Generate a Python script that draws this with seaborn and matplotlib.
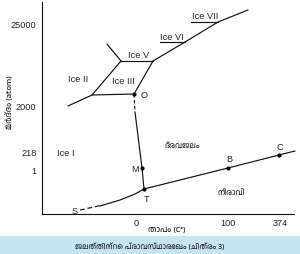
import numpy as np
import pandas as pd
import matplotlib
matplotlib.use("Agg")
import matplotlib.pyplot as plt
import seaborn as sns
from matplotlib import font_manager
from matplotlib.patches import Rectangle

# ---------------- data (schematic units) ----------------
x_tick_pos = [94, 186, 238]
x_tick_labels = ["0", "100", "374"]
y_tick_pos = [45, 62, 109, 191]
y_tick_labels = ["1", "218", "2000", "25000"]

sub_dash_x = [38, 61]
sub_dash_y = [4, 9]
sub_x = [58, 78, 93, 102]
sub_y = [8, 14, 20, 25]

melt_dash_x = [92, 93]
melt_dash_y = [120, 102]
melt_x = [93, 100, 102]
melt_y = [102, 46, 25]

vap_x = [102, 186, 237, 253]
vap_y = [25, 46, 59, 63]

ice_segments = {
    "III_bottom": ([92, 50], [120, 119]),
    "II_I": ([50, 26], [119, 108]),
    "III_left": ([50, 79], [119, 153]),
    "II_V": ([79, 65], [153, 170]),
    "V_bottom": ([79, 111], [153, 153]),
    "III_right": ([111, 92], [153, 120]),
    "V_VI_VII": ([111, 143, 176, 206], [153, 172, 192, 204]),
    "VI_under": ([118, 143], [172, 172]),
    "VII_under": ([149, 176], [192, 192]),
}

point_names = ["T", "M", "O", "B", "C"]
point_x = [102, 100, 92, 186, 237]
point_y = [25, 46, 120, 46, 59]

# ---------------- fonts ----------------
sns.set_theme(style="white")
ml_family = None
for f in font_manager.fontManager.ttflist:
    if "malayalam" in f.name.lower():
        ml_family = f.name
        break
if ml_family is None:
    try:
        from matplotlib.ft2font import FT2Font
        seen = set()
        for f in font_manager.fontManager.ttflist:
            if f.fname in seen:
                continue
            seen.add(f.fname)
            try:
                if 0x0D2E in FT2Font(f.fname).get_charmap():
                    ml_family = f.name
                    break
            except Exception:
                pass
    except Exception:
        pass
fam = ["Liberation Sans", "DejaVu Sans"]
ml_fam = ([ml_family] if ml_family else []) + fam
plt.rcParams["font.family"] = fam

# ---------------- figure ----------------
fig = plt.figure(figsize=(3.0, 2.55), dpi=100)
ax = fig.add_axes([42 / 300, 40 / 255, 252 / 300, 212 / 255])
ax.set_xlim(0, 252)
ax.set_ylim(0, 212)
ax.set_facecolor("white")

lw = 0.85
kw = dict(ax=ax, color="#111111", linewidth=lw, sort=False, estimator=None, legend=False)

sns.lineplot(x=sub_dash_x, y=sub_dash_y, linestyle=(0, (4, 2.5)), **kw)
sns.lineplot(x=sub_x, y=sub_y, **kw)
sns.lineplot(x=melt_dash_x, y=melt_dash_y, linestyle=(0, (3, 2)), **kw)
sns.lineplot(x=melt_x, y=melt_y, **kw)
sns.lineplot(x=vap_x, y=vap_y, **kw)
for name, (xs, ys) in ice_segments.items():
    sns.lineplot(x=xs, y=ys, **kw)
for line in ax.lines:
    line.set_clip_on(False)

sns.scatterplot(x=point_x, y=point_y, ax=ax, color="black", s=9, linewidth=0, zorder=5)

# labels
fs = 6.7
tc = "#222222"
ax.text(99, 119, "O", fontsize=fs, ha="left", va="center", color=tc)
ax.text(97, 46, "M", fontsize=fs, ha="right", va="center", color=tc)
ax.text(105, 16, "T", fontsize=fs, ha="center", va="center", color=tc)
ax.text(187, 55, "B", fontsize=fs, ha="center", va="center", color=tc)
ax.text(238, 67, "C", fontsize=fs, ha="center", va="center", color=tc)
ax.text(33, 3, "S", fontsize=fs, ha="center", va="center", color=tc)

ax.text(163, 199, "Ice VII", fontsize=fs, ha="center", va="center", color=tc)
ax.text(130, 178, "Ice VI", fontsize=fs, ha="center", va="center", color=tc)
ax.text(86, 160, "Ice V", fontsize=fs, ha="left", va="center", color=tc)
ax.text(26, 135, "Ice II", fontsize=fs, ha="left", va="center", color=tc)
ax.text(70, 133, "Ice III", fontsize=fs, ha="left", va="center", color=tc)
ax.text(15, 62, "Ice I", fontsize=fs, ha="left", va="center", color=tc)
ax.text(140, 70, "ദ്രവജലം", fontsize=5.8, ha="center", va="center", family=ml_fam, color=tc)
ax.text(189, 22, "നീരാവി", fontsize=5.8, ha="center", va="center", family=ml_fam, color=tc)

# axes styling
for s in ["top", "right"]:
    ax.spines[s].set_visible(False)
for s in ["left", "bottom"]:
    ax.spines[s].set_color("#111111")
    ax.spines[s].set_linewidth(0.8)
ax.set_xticks(x_tick_pos)
ax.set_xticklabels(x_tick_labels)
ax.set_yticks(y_tick_pos)
ax.set_yticklabels(y_tick_labels)
ax.tick_params(axis="y", direction="out", length=3, width=0.8, pad=1, labelsize=6.6, colors="#222222")
ax.tick_params(axis="x", direction="inout", length=4, width=0.8, pad=1, labelsize=6.6, colors="#222222")
ax.grid(False)

fig.text(9 / 300, 1 - 102 / 255, "മർദ്ദം (atom)", rotation=90, fontsize=6.2,
         ha="center", va="center", family=ml_fam, color=tc)
fig.text(167 / 300, 1 - 230 / 255, "താപം (C°)", fontsize=6.2, ha="center", va="center",
         family=ml_fam, color=tc)

# caption band
fig.patches.append(Rectangle((0, 0), 1, 18 / 255, transform=fig.transFigure,
                             facecolor="#c6e5f1", edgecolor="none", zorder=0))
fig.text(0.5, 9 / 255, "ജലത്തിന്റെ പ്രാവസ്ഥാരേഖം (ചിത്രം 3)", fontsize=5.6,
         ha="center", va="center", family=ml_fam, color=tc)

fig.savefig("out.png", dpi=100, facecolor="white")
